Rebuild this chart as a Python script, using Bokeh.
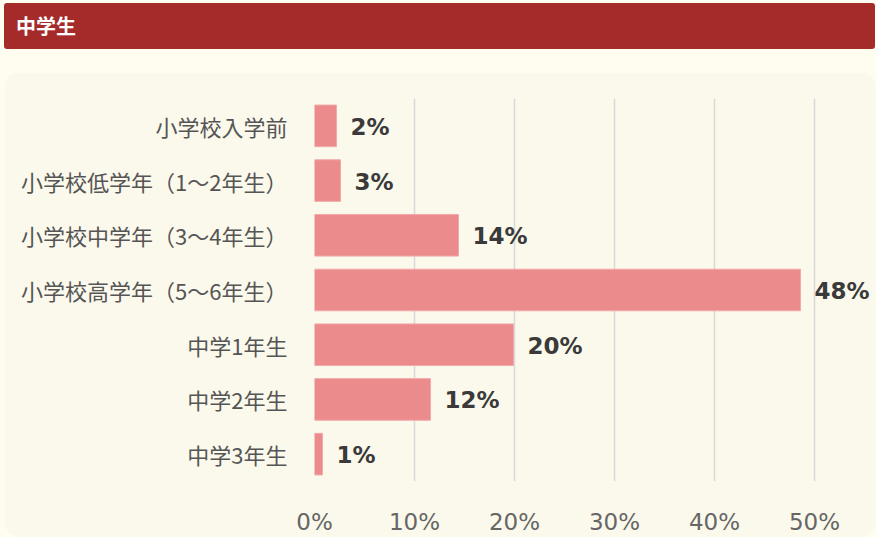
from bokeh.plotting import figure
from bokeh.layouts import column
from bokeh.models import (Range1d, FactorRange, Div, ColumnDataSource,
                          FixedTicker, PrintfTickFormatter)
from bokeh.core.properties import value
from bokeh.embed import file_html
from bokeh.resources import INLINE

# data
categories = ["小学校入学前", "小学校低学年（1〜2年生）", "小学校中学年（3〜4年生）",
              "小学校高学年（5〜6年生）", "中学1年生", "中学2年生", "中学3年生"]
values = [2.2, 2.6, 14.4, 48.6, 19.9, 11.6, 0.8]
value_labels = ["2%", "3%", "14%", "48%", "20%", "12%", "1%"]
x_ticks = [0, 10, 20, 30, 40, 50]
title_text = "中学生"

PAGE_BG = "#fffdf0"
PANEL_BG = "#fbf9ec"
HEADER = "#a52a2a"
BAR = "#ec8b8b"
CJK = "Noto Sans CJK JP"

# header bar
header = Div(text=title_text, width=871, height=46, margin=(3, 0, 0, 4),
             styles={"background-color": HEADER, "border-radius": "3px",
                     "color": "white", "font-family": CJK, "font-weight": "bold",
                     "font-size": "20px", "line-height": "46px",
                     "padding-left": "12px", "box-sizing": "border-box"})

W, H = 872, 465
p = figure(width=W, height=H, output_backend="svg", toolbar_location=None,
           x_range=Range1d(0, 56.2), y_range=FactorRange(*reversed(categories)),
           min_border_left=310, min_border_right=0, min_border_top=26,
           min_border_bottom=52, margin=(23, 0, 0, 4),
           styles={"border-radius": "16px", "overflow": "hidden"})
p.background_fill_color = PANEL_BG
p.border_fill_color = PANEL_BG
p.outline_line_color = None

src = ColumnDataSource(dict(cat=categories, val=values, lab=value_labels))
p.hbar(y="cat", right="val", left=0, height=0.76, source=src,
       fill_color=BAR, line_color="#f2a9a9", line_width=1)
p.text(x="val", y="cat", text="lab", source=src, x_offset=14, y_offset=1,
       text_font=value("DejaVu Sans"), text_font_style="bold",
       text_font_size="23px", text_color="#3a3a3a", text_baseline="middle")

# axes
p.xaxis.ticker = FixedTicker(ticks=x_ticks)
p.xaxis.formatter = PrintfTickFormatter(format="%d%%")
p.xaxis.major_label_text_font = "DejaVu Sans"
p.xaxis.major_label_text_font_size = "23px"
p.xaxis.major_label_text_color = "#666666"
p.xaxis.major_label_standoff = 21
p.yaxis.major_label_text_font = CJK
p.yaxis.major_label_text_font_size = "22px"
p.yaxis.major_label_text_color = "#555555"
p.yaxis.major_label_standoff = 21
for ax in (p.xaxis, p.yaxis):
    ax.axis_line_color = None
    ax.major_tick_line_color = None
    ax.minor_tick_line_color = None

p.xgrid.ticker = FixedTicker(ticks=x_ticks)
p.xgrid.grid_line_color = "#d9d9d9"
p.xgrid.grid_line_width = 1.5
p.ygrid.grid_line_color = None

layout = column(header, p, spacing=0, styles={"background-color": PAGE_BG})

open("out.html", "w").write(file_html(layout, INLINE))
